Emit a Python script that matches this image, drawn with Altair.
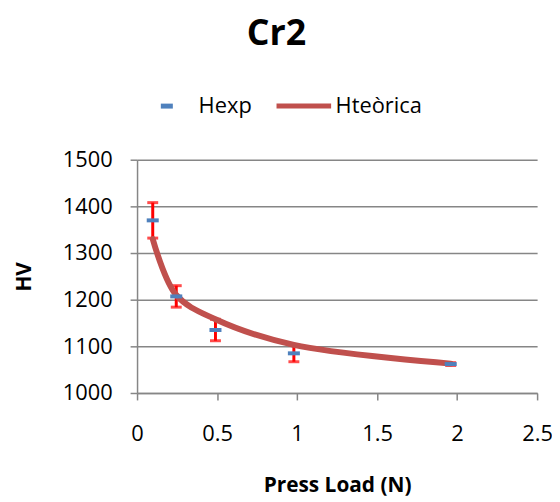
import altair as alt
import pandas as pd

# ---- data ----
load_n = [0.098, 0.245, 0.49, 0.98, 1.96]
h_exp = [1370, 1207, 1135, 1085, 1062]
h_err = [38, 23, 23, 18, 3]
h_teorica = [1330, 1210, 1158, 1103, 1063]

series_names = ["Hexp", "Hteòrica"]
x_ticks = [0, 0.5, 1, 1.5, 2, 2.5]
y_ticks = [1000, 1100, 1200, 1300, 1400, 1500]

exp_df = pd.DataFrame({
    "load": load_n,
    "hv": h_exp,
    "lo": [v - e for v, e in zip(h_exp, h_err)],
    "hi": [v + e for v, e in zip(h_exp, h_err)],
    "series": "Hexp",
})
teo_df = pd.DataFrame({"load": load_n, "hv": h_teorica, "series": "Hteòrica"})

FONT = "Open Sans"
GRAY = "#868686"
BLUE = "#4F81BD"
RED = "#C0504D"

x_enc = alt.X("load:Q", title="Press Load (N)",
              scale=alt.Scale(domain=[0, 2.5], nice=False),
              axis=alt.Axis(values=x_ticks, grid=False, tickSize=7, labelFlush=False,
                            labelPadding=24, titlePadding=30, format="~g"))
y_scale = alt.Scale(domain=[1000, 1500], nice=False)
y_axis = alt.Axis(values=y_ticks, grid=True, tickSize=7, labelPadding=18,
                  labelFlush=False, titlePadding=28, format="d")

color_scale = alt.Scale(domain=series_names, range=[BLUE, RED])
shape_scale = alt.Scale(domain=series_names, range=["M-0.22,0H0.22", "M-1,0H1"])

legend = alt.Legend(title=None, orient="none", direction="horizontal",
                    legendX=0, legendY=-84, symbolSize=3025,
                    symbolStrokeWidth=5, labelOffset=2,
                    columnPadding=14, padding=0,
                    labelFontSize=22, labelFont=FONT,
                    labelColor="#000000")

errbars = alt.Chart(exp_df).mark_errorbar(
    ticks={"color": "#FF0000", "thickness": 3, "size": 11},
    rule={"color": "#FF0000", "strokeWidth": 3},
).encode(
    x=x_enc,
    y=alt.Y("lo:Q", scale=y_scale, axis=y_axis, title="HV"),
    y2="hi:Q",
)

line = alt.Chart(teo_df).mark_line(
    interpolate="catmull-rom", strokeWidth=6, strokeCap="round"
).encode(
    x=x_enc,
    y=alt.Y("hv:Q", scale=y_scale, axis=y_axis, title="HV"),
    color=alt.Color("series:N", scale=color_scale, legend=legend),
)

points = alt.Chart(exp_df).mark_point(
    filled=False, size=3025, strokeWidth=4, opacity=1
).encode(
    x=x_enc,
    y=alt.Y("hv:Q", scale=y_scale, axis=y_axis, title="HV"),
    color=alt.Color("series:N", scale=color_scale, legend=legend),
    shape=alt.Shape("series:N", scale=shape_scale, legend=legend),
)

chart = alt.layer(errbars, line, points).properties(
    width=403, height=235,
    autosize=alt.AutoSizeParams(type="none"),
    padding={"left": 130, "top": 151, "right": 15, "bottom": 110},
    background="white",
    title=alt.TitleParams("Cr2", fontSize=36, font=FONT, fontWeight="bold",
                          anchor="middle", dx=-61, offset=24, color="#000000"),
).configure_view(stroke=None).configure_axis(
    domainColor=GRAY, domainWidth=1.5, tickColor=GRAY, tickWidth=1.5,
    gridColor=GRAY, gridWidth=1.5, gridOpacity=1,
    labelFont=FONT, labelFontSize=22, labelColor="#000000",
    titleFont=FONT, titleFontSize=21, titleFontWeight="bold", titleColor="#000000",
)

chart.save("out.html", embed_options={"renderer": "svg", "actions": False})
